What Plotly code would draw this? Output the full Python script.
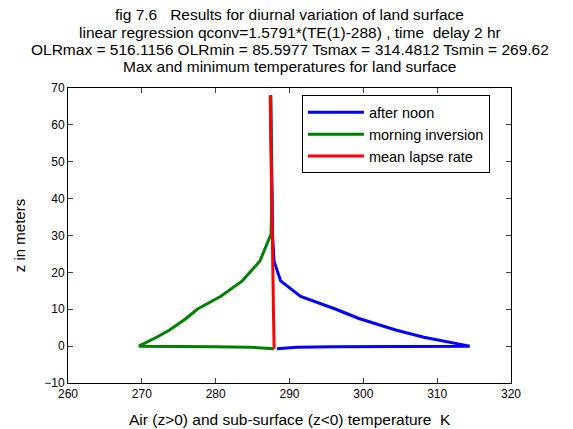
import plotly.graph_objects as go

# ---- data ----
depths_sub = [-0.7, -0.3, -0.2, -0.1]          # sub-surface depths (m), deep -> shallow
heights_air = [0, 2.4, 4.3, 7.5, 10.0, 13.5, 17.7, 23.1, 30.4, 40.0, 52.0, 68.0]

afternoon_sub = [288.3, 291.0, 296.0, 303.0]
afternoon_air = [314.4, 308.2, 304.5, 299.4, 296.3, 291.5, 288.8, 287.9, 287.7, 287.65, 287.55, 287.45]

morning_sub = [287.9, 284.6, 280.0, 275.0]
morning_air = [269.6, 272.0, 273.7, 276.0, 277.5, 280.7, 283.6, 286.0, 287.5, 287.6, 287.55, 287.45]

lapse_sub = [287.92, 287.92, 287.92, 287.92]
lapse_air = [287.9, 287.88, 287.87, 287.84, 287.82, 287.8, 287.76, 287.72, 287.66, 287.59, 287.5, 287.38]

series_names = ["after noon", "morning inversion", "mean lapse rate"]
x_ticks = [260, 270, 280, 290, 300, 310, 320]
y_ticks = [-10, 0, 10, 20, 30, 40, 50, 60, 70]

title_lines = [
    "fig 7.6\u00a0\u00a0\u00a0Results for diurnal variation of land surface",
    "linear regression qconv=1.5791*(TE(1)-288) , time\u00a0\u00a0delay 2 hr",
    "OLRmax = 516.1156 OLRmin = 85.5977 Tsmax = 314.4812 Tsmin = 269.62",
    "Max and minimum temperatures for land surface",
]
x_title = "Air (z>0) and sub-surface (z<0) temperature\u00a0\u00a0K"

z_all = depths_sub + heights_air
fig = go.Figure()
for name, sub, air, col in [
    (series_names[0], afternoon_sub, afternoon_air, "#0000ff"),
    (series_names[1], morning_sub, morning_air, "#008000"),
    (series_names[2], lapse_sub, lapse_air, "#ff0000"),
]:
    fig.add_trace(go.Scatter(x=sub + air, y=z_all, mode="lines", name=name,
                             line=dict(color=col, width=3)))

font = "Liberation Sans, Arial, sans-serif"

plot_top, plot_bottom = 88, 383
def py2paper(py):
    return (plot_bottom - py) / (plot_bottom - plot_top)

annots = []
for i, line in enumerate(title_lines):
    annots.append(dict(text=line, x=0.5, y=py2paper(15 + 17 * i),
                       xref="paper", yref="paper", xanchor="center", yanchor="middle",
                       showarrow=False, font=dict(size=15.5, family=font, color="black")))
annots.append(dict(text=x_title, x=0.5, y=py2paper(419), xref="paper", yref="paper",
                   xanchor="center", yanchor="middle", showarrow=False,
                   font=dict(size=15.5, family=font, color="black")))

fig.update_layout(
    width=573, height=429,
    margin=dict(l=68, r=62, t=88, b=46, autoexpand=False),
    paper_bgcolor="white", plot_bgcolor="white",
    font=dict(family=font, size=12, color="black"),
    annotations=annots,
    showlegend=True,
    legend=dict(x=0.528, y=0.975, xanchor="left", yanchor="top",
                bordercolor="black", borderwidth=1, bgcolor="white",
                font=dict(size=14.5, family=font), itemwidth=56),
    xaxis=dict(range=[260, 320], tickvals=x_ticks, ticks="inside", ticklen=5,
               showline=True, linecolor="black", linewidth=1, mirror="ticks",
               showgrid=False, zeroline=False, automargin=False),
    yaxis=dict(range=[-10, 70], tickvals=y_ticks, ticks="inside", ticklen=5,
               showline=True, linecolor="black", linewidth=1, mirror="ticks",
               showgrid=False, zeroline=False, automargin=False,
               title=dict(text="z in meters", standoff=14, font=dict(size=15))),
)

fig.write_html("out.html")
